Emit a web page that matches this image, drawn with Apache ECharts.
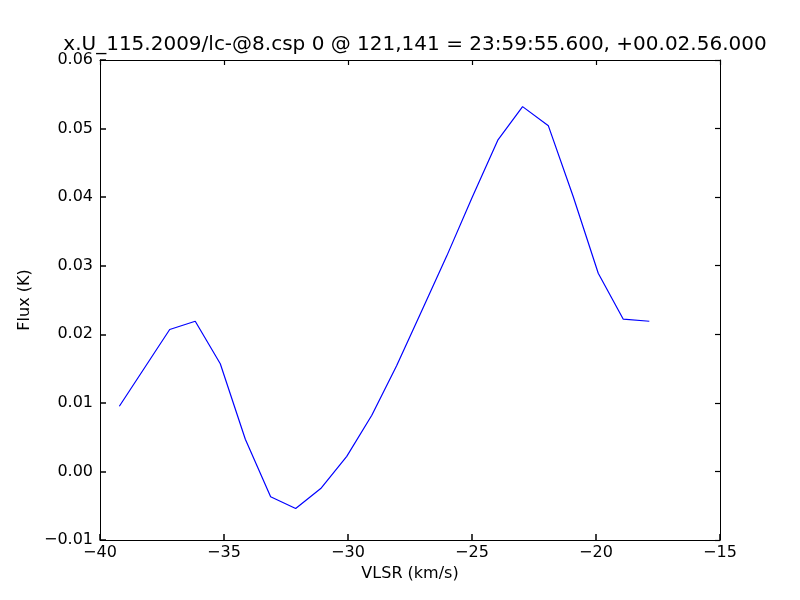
<!DOCTYPE html>
<html><head><meta charset="utf-8">
<script src="https://cdn.jsdelivr.net/npm/echarts@6/dist/echarts.min.js"></script>
<style>html,body{margin:0;padding:0;background:#fff}#c{width:800px;height:600px}</style>
</head><body><div id="c"></div>
<script>
const velocities = [-39.22,-37.19,-36.16,-35.15,-34.14,-33.12,-32.11,-31.10,-30.05,-29.04,-28.04,-27.03,-26.02,-25.00,-23.96,-22.96,-21.92,-20.92,-19.91,-18.90,-17.85];
const flux = [0.0095,0.0207,0.0219,0.0157,0.0047,-0.0037,-0.0054,-0.0025,0.0022,0.0082,0.0154,0.0234,0.0314,0.0399,0.0483,0.0532,0.0504,0.0401,0.0289,0.0222,0.0219];
const titleText = 'x.U_115.2009/lc-@8.csp 0 @ 121,141 = 23:59:55.600, +00.02.56.000';
const fmtMinus = s => s.replace('-', '\u2212');
const font = 'DejaVu Sans';
const chart = echarts.init(document.getElementById('c'), null, {renderer:'canvas'});
const tick = (len, w) => ({show:true, inside:true, length:len, lineStyle:{color:'#000', width:w}});
const line = () => ({show:true, onZero:false, lineStyle:{color:'#000', width:1}});
chart.setOption({
  animation:false,
  backgroundColor:'#fff',
  title:{text:titleText, left:410, textAlign:'center', top:30, textStyle:{fontFamily:font, fontSize:20, fontWeight:'normal', color:'#000'}},
  grid:{left:100, right:80, top:60, bottom:60, show:false},
  xAxis:[{type:'value', position:'bottom', min:-40, max:-15, interval:5, name:'VLSR (km/s)', nameLocation:'middle', nameGap:24,
    nameTextStyle:{fontFamily:font, fontSize:16, color:'#000'},
    axisLine:line(), axisTick:tick(6, 1.5), splitLine:{show:false},
    axisLabel:{fontFamily:font, fontSize:16, color:'#000', margin:5, formatter:v=>fmtMinus(String(v))}},
    {type:'value', position:'top', min:-40, max:-15, interval:5, axisLine:line(), axisTick:tick(5, 1.2), axisLabel:{show:false}, splitLine:{show:false}}],
  yAxis:[{type:'value', position:'left', min:-0.01, max:0.06, interval:0.01, name:'Flux (K)', nameLocation:'middle', nameGap:61, nameRotate:90,
    nameTextStyle:{fontFamily:font, fontSize:16, color:'#000'},
    axisLine:line(), axisTick:tick(6, 1.5), splitLine:{show:false},
    axisLabel:{fontFamily:font, fontSize:16, color:'#000', margin:7, formatter:v=>fmtMinus(v.toFixed(2))}},
    {type:'value', position:'right', min:-0.01, max:0.06, interval:0.01, axisLine:line(), axisTick:tick(5, 1.2), axisLabel:{show:false}, splitLine:{show:false}}],
  series:[{type:'line', data:velocities.map((v,i)=>[v,flux[i]]), showSymbol:false, symbol:'none',
    lineStyle:{color:'#0000ff', width:1.2}, itemStyle:{color:'#0000ff'}}]
});
</script></body></html>
